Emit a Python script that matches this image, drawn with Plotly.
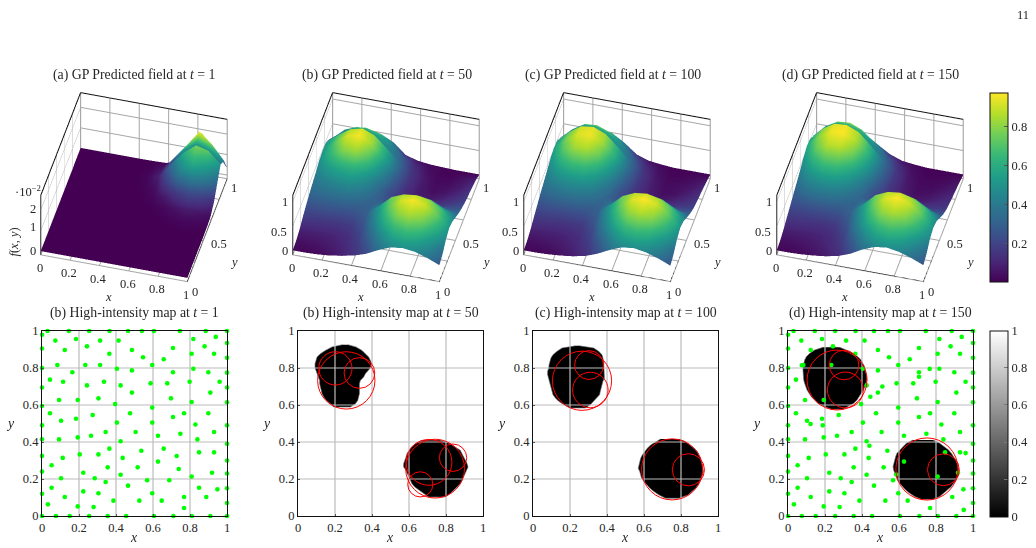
import plotly.graph_objects as go

W, H = 1036, 548
FONT = "Liberation Serif"
TXT = "#262626"
GRID = "#bcbcbc"

GRID_X = [0, .083, .167, .25, .333, .417, .5, .583, .667, .75, .833, .917, 1]
GRID_Y = [0, .083, .167, .25, .333, .417, .5, .583, .667, .75, .833, .917, 1]

# Predicted fields, one row per GRID_Y value (panel a in units of 1e-2)
FIELD_A = [
    [0, 0, 0, 0, 0, 0, 0, 0, 0, 0, 0, 0, 0],
    [0, 0, 0, 0, 0, 0, 0, 0, 0, 0, 0, 0, 0],
    [0, 0, 0, 0, 0, 0, 0, 0, 0, 0, 0, 0, 0],
    [0, 0, 0, 0, 0, 0, 0, 0, 0, 0, 0, 0, 0],
    [0, 0, 0, 0, 0, 0, 0, 0, 0, 0, 0, 0, 0],
    [0, 0, 0, 0, 0, 0, 0, 0, 0, 0, .01, .01, 0],
    [0, 0, 0, 0, 0, 0, 0, 0, .01, .03, .05, .04, .02],
    [0, 0, 0, 0, 0, 0, 0, .01, .04, .12, .2, .16, .08],
    [0, 0, 0, 0, 0, 0, .01, .05, .2, .45, .65, .55, .35],
    [0, 0, 0, 0, 0, 0, .02, .12, .6, 1.2, 1.55, 1.3, .85],
    [0, 0, 0, 0, 0, 0, .04, .25, .95, 1.6, 2.05, 1.9, 1.35],
    [0, 0, 0, 0, 0, 0, .02, .15, .85, 1.55, 2.3, 1.8, 1.1],
    [0, 0, 0, 0, 0, 0, .01, .03, .2, 1.2, 1.75, 1.1, .32],
]
FIELD_B = [
    [.02, .02, .03, .05, .09, .14, .22, .34, .44, .47, .44, .36, .26],
    [.04, .05, .06, .08, .11, .17, .28, .44, .58, .63, .58, .46, .32],
    [.09, .09, .09, .10, .13, .20, .37, .58, .75, .81, .75, .60, .44],
    [.17, .16, .15, .15, .17, .25, .45, .68, .86, .92, .86, .70, .50],
    [.24, .24, .24, .23, .24, .29, .50, .72, .82, .85, .80, .66, .46],
    [.30, .32, .33, .33, .30, .29, .35, .50, .62, .66, .62, .50, .37],
    [.35, .40, .43, .44, .40, .31, .24, .24, .28, .30, .30, .29, .29],
    [.40, .50, .56, .58, .50, .36, .22, .14, .13, .14, .16, .20, .23],
    [.46, .62, .76, .80, .67, .46, .27, .13, .07, .07, .10, .14, .18],
    [.48, .68, .87, .92, .80, .56, .32, .15, .07, .04, .06, .10, .15],
    [.47, .66, .82, .88, .78, .56, .32, .15, .07, .03, .04, .07, .12],
    [.35, .53, .68, .72, .65, .48, .27, .12, .05, .02, .02, .05, .08],
    [.20, .42, .52, .52, .46, .34, .13, .06, .03, .02, .01, .01, .01],
]
FIELD_C = [
    [.02, .02, .03, .05, .08, .13, .22, .34, .44, .47, .43, .35, .25],
    [.04, .05, .06, .08, .11, .17, .29, .46, .60, .64, .59, .46, .32],
    [.09, .09, .09, .10, .13, .21, .39, .60, .78, .84, .78, .62, .44],
    [.16, .16, .15, .15, .17, .26, .47, .70, .89, .95, .89, .72, .50],
    [.23, .24, .24, .24, .24, .30, .52, .74, .85, .88, .82, .68, .46],
    [.30, .33, .35, .35, .32, .30, .38, .52, .64, .68, .63, .50, .36],
    [.36, .43, .47, .47, .42, .33, .25, .25, .29, .31, .30, .27, .27],
    [.42, .55, .63, .64, .55, .40, .24, .15, .14, .14, .15, .18, .20],
    [.48, .68, .82, .84, .72, .50, .29, .15, .08, .06, .09, .12, .16],
    [.52, .75, .90, .93, .82, .60, .34, .16, .08, .04, .05, .09, .13],
    [.50, .72, .88, .91, .81, .59, .34, .16, .07, .03, .04, .06, .10],
    [.38, .60, .75, .77, .68, .49, .27, .12, .05, .02, .02, .04, .06],
    [.20, .45, .52, .52, .48, .33, .14, .06, .03, .01, .01, .01, .01],
]
FIELD_D = [
    [.02, .02, .03, .05, .08, .13, .22, .35, .45, .48, .44, .36, .26],
    [.04, .05, .06, .08, .11, .17, .30, .47, .61, .66, .60, .47, .33],
    [.09, .09, .09, .10, .13, .21, .40, .62, .80, .86, .79, .63, .45],
    [.16, .16, .15, .15, .17, .27, .48, .72, .91, .97, .90, .73, .50],
    [.22, .23, .24, .24, .25, .31, .53, .76, .87, .90, .83, .69, .46],
    [.29, .34, .36, .36, .33, .31, .39, .54, .66, .70, .64, .50, .35],
    [.35, .45, .50, .50, .44, .34, .26, .26, .30, .32, .30, .26, .25],
    [.42, .58, .68, .68, .58, .42, .25, .16, .14, .14, .15, .16, .18],
    [.50, .72, .87, .88, .76, .54, .31, .16, .08, .06, .08, .11, .14],
    [.56, .80, .95, .97, .86, .63, .36, .17, .08, .04, .05, .08, .11],
    [.54, .78, .93, .95, .85, .62, .36, .17, .07, .03, .03, .05, .08],
    [.42, .66, .80, .82, .72, .50, .28, .13, .05, .02, .02, .03, .05],
    [.20, .42, .52, .52, .46, .30, .15, .06, .03, .01, .01, .01, .01],
]

# Shading of the rear strip of each surface (last three GRID_Y rows)
REAR_A = [
    [0, 0, 0, 0, 0, 0, .04, .25, .7, 1.1, 1.3, 1.3, 1.0],
    [0, 0, 0, 0, 0, 0, .02, .15, .85, 1.9, 2.6, 2.1, 1.2],
    [0, 0, 0, 0, 0, 0, .01, .03, .2, 1.2, 1.75, 1.1, .32],
]
REAR_B = [
    [.28, .36, .44, .50, .50, .42, .32, .15, .07, .03, .04, .07, .12],
    [.30, .45, .60, .66, .60, .45, .27, .12, .05, .02, .02, .05, .08],
    [.20, .42, .62, .72, .60, .36, .13, .06, .03, .02, .01, .01, .01],
]
REAR_C = [
    [.28, .38, .47, .53, .52, .44, .34, .16, .07, .03, .04, .06, .10],
    [.32, .50, .66, .72, .64, .47, .27, .12, .05, .02, .02, .04, .06],
    [.20, .45, .62, .72, .60, .36, .14, .06, .03, .01, .01, .01, .01],
]
REAR_D = [
    [.30, .42, .52, .58, .55, .45, .36, .17, .07, .03, .03, .05, .08],
    [.42, .62, .76, .80, .70, .50, .28, .13, .05, .02, .02, .03, .05],
    [.20, .42, .62, .74, .62, .36, .15, .06, .03, .01, .01, .01, .01],
]

# Black regions of the intensity maps: (y, x_start, x_end) per scan row, one list per region
BLOBS_B = [[
    (.926, .24, .27), (.914, .184, .313), (.895, .148, .346), (.877, .121, .364), (.859, .103, .382),
    (.841, .099, .391), (.823, .092, .4), (.80, .092, .391), (.787, .097, .382), (.769, .103, .364),
    (.751, .112, .355), (.733, .117, .337), (.715, .117, .332), (.697, .121, .332), (.679, .124, .332),
    (.661, .13, .332), (.643, .139, .328), (.625, .153, .323), (.607, .175, .31), (.589, .193, .283),
], [
    (.409, .67, .769), (.391, .634, .823), (.373, .613, .85), (.355, .602, .877), (.337, .589, .887),
    (.319, .584, .895), (.301, .577, .905), (.283, .571, .914), (.265, .571, .919), (.247, .584, .914),
    (.229, .591, .905), (.211, .598, .895), (.193, .607, .887), (.175, .616, .877), (.157, .631, .859),
    (.139, .656, .841), (.121, .685, .823), (.103, .706, .796),
]]
BLOBS_C = [[
    (.92, .23, .25), (.908, .157, .328), (.89, .13, .355), (.872, .108, .373), (.854, .097, .378),
    (.836, .09, .382), (.818, .087, .386), (.8, .085, .386), (.782, .079, .386), (.764, .079, .386),
    (.746, .083, .386), (.728, .09, .378), (.71, .094, .373), (.692, .097, .368), (.674, .103, .364),
    (.656, .108, .36), (.638, .121, .346), (.62, .139, .328), (.602, .166, .31), (.584, .202, .283),
], [
    (.416, .69, .789), (.402, .663, .825), (.384, .636, .849), (.366, .618, .87), (.348, .604, .888),
    (.33, .591, .897), (.312, .582, .906), (.294, .577, .912), (.276, .573, .915), (.258, .569, .919),
    (.24, .577, .921), (.222, .582, .915), (.204, .587, .91), (.186, .6, .903), (.168, .614, .892),
    (.15, .632, .879), (.132, .654, .861), (.114, .681, .838), (.096, .717, .789),
]]
BLOBS_D = [[
    (.912, .189, .279), (.897, .144, .315), (.879, .117, .351), (.861, .099, .378), (.843, .09, .396),
    (.825, .085, .405), (.807, .081, .414), (.789, .081, .42), (.771, .081, .423), (.753, .081, .427),
    (.735, .085, .427), (.717, .09, .423), (.699, .095, .414), (.681, .103, .409), (.663, .114, .396),
    (.645, .126, .387), (.627, .144, .373), (.609, .162, .355), (.591, .198, .324), (.577, .234, .297),
], [
    (.411, .676, .784), (.393, .64, .82), (.375, .622, .847), (.357, .604, .868), (.339, .589, .883),
    (.321, .582, .895), (.303, .577, .906), (.285, .571, .914), (.267, .568, .919), (.249, .571, .923),
    (.231, .578, .924), (.213, .586, .919), (.195, .591, .91), (.177, .604, .895), (.159, .618, .883),
    (.141, .636, .865), (.123, .658, .841), (.105, .685, .82), (.09, .721, .784),
]]

# Sampling locations of the first panel; most of them recur in the last one
SAMPLES = [
    (.03, 1), (.145, 1), (.255, 1), (.365, 1), (.465, 1), (.54, 1), (.605, 1), (.745, 1), (.885, 1), (1, 1),
    (0, .98), (0, .905), (0, .8), (0, .695), (0, .595), (0, .49), (0, .415), (0, .325), (0, .24), (0, .12), (0, 0),
    (1, .935), (1, .855), (1, .775), (1, .695), (1, .615), (1, .49), (1, .39), (1, .30), (1, .23), (1, .15), (1, .07),
    (.075, 0), (.15, 0), (.255, 0), (.355, 0), (.455, 0), (.605, 0), (.71, 0), (.81, 0), (.91, 0), (1, 0),
    (.072, .948), (.184, .957), (.123, .897), (.243, .917), (.314, .948), (.364, .877), (.414, .948), (.486, .897),
    (.546, .858), (.658, .847), (.708, .908), (.809, .877), (.818, .957), (.879, .917), (.939, .968), (.93, .877),
    (.083, .816), (.164, .777), (.234, .816), (.314, .816), (.405, .796), (.486, .787), (.596, .816), (.708, .777),
    (.818, .796), (.899, .777), (.96, .726), (.043, .737), (.114, .726), (.243, .706), (.335, .726), (.425, .706),
    (.486, .667), (.587, .717), (.677, .717), (.798, .726), (.91, .667), (.092, .627), (.193, .627), (.305, .636),
    (.395, .605), (.697, .636), (.809, .616), (.596, .586), (.043, .555), (.103, .515), (.184, .526), (.274, .546),
    (.476, .555), (.708, .535), (.768, .555), (.829, .495), (.899, .555), (.405, .505), (.596, .505), (.092, .414),
    (.193, .425), (.265, .434), (.344, .454), (.506, .454), (.425, .404), (.627, .434), (.748, .445), (.84, .414),
    (.93, .454), (.364, .364), (.204, .333), (.305, .333), (.112, .314), (.436, .314), (.537, .353), (.658, .364),
    (.728, .324), (.627, .294), (.849, .344), (.93, .344), (.052, .274), (.355, .263), (.517, .263), (.739, .254),
    (.919, .234), (.223, .234), (.425, .223), (.809, .213), (.103, .204), (.285, .204), (.568, .193), (.688, .193),
    (.344, .184), (.052, .153), (.465, .164), (.223, .133), (.305, .123), (.596, .123), (.948, .144), (.849, .153),
    (.123, .103), (.386, .083), (.526, .083), (.647, .083), (.768, .103), (.888, .103), (.032, .063), (.193, .052),
    (.279, .049), (.768, .043),
]
DROPPED_LATER = [(.314, .816), (.164, .777), (.114, .726), (.243, .706), (.335, .726), (.305, .636),
                 (.658, .364), (.728, .324), (.739, .254), (.688, .193), (.849, .153), (.768, .103)]
LATER_SAMPLES = [(.075, .815), (.122, .497), (.188, .49), (.445, .645), (.51, .70), (.708, .753), (.766, .795),
                 (.44, .38), (.96, .34), (.585, .224), (.95, .033)]

# Fitted circles: (centre x, centre y, radius)
CIRCLES_B = [(.261, .733, .155), (.202, .798, .09), (.332, .773, .083),
             (.741, .256, .159), (.708, .29, .124), (.838, .315, .074), (.661, .171, .068)]
CIRCLES_C = [(.265, .731, .16), (.303, .816, .078), (.31, .681, .096), (.752, .252, .165), (.84, .25, .087)]
CIRCLES_D = [(.265, .735, .162), (.303, .816, .08), (.31, .681, .097), (.751, .254, .168), (.84, .25, .086)]

TICKS_2D = [0, .2, .4, .6, .8, 1]
TICK_TEXT = ["0", "0.2", "0.4", "0.6", "0.8", "1"]
BAR_TICKS_TOP = [.2, .4, .6, .8]
BAR_TICKS_BOTTOM = [0, .2, .4, .6, .8, 1]

TITLES_TOP = ["(a) GP Predicted field at <i>t</i> = 1", "(b) GP Predicted field at <i>t</i> = 50",
              "(c) GP Predicted field at <i>t</i> = 100", "(d) GP Predicted field at <i>t</i> = 150"]
TITLES_BOTTOM = ["(b) High-intensity map at <i>t</i> = 1", "(b) High-intensity map at <i>t</i> = 50",
                 "(c) High-intensity map at <i>t</i> = 100", "(d) High-intensity map at <i>t</i> = 150"]

fig = go.Figure()


def fx(p):
    return p / W


def fy(p):
    return 1 - p / H


def note(text, x, y, size=13.8, angle=0, xanchor="center"):
    return dict(text=text, x=fx(x), y=fy(y), xref="paper", yref="paper", showarrow=False, textangle=angle,
                xanchor=xanchor, yanchor="middle", font=dict(family=FONT, size=size, color=TXT))


# ---- surfaces ----
ORIGINS = [40, 292, 523, 776]
TITLE_X = [134, 387, 613, 870]
FIELDS = [FIELD_A, FIELD_B, FIELD_C, FIELD_D]
REARS = [REAR_A, REAR_B, REAR_C, REAR_D]
ZBASE = [-.18, -.07, -.07, -.07]
ZTOPS = [2.72, 1.13, 1.13, 1.13]
ZTICKS = [[0, 1, 2], [0, .5, 1], [0, .5, 1], [0, .5, 1]]
ZTEXT = [["0", "1", "2"], ["0", "0.5", "1"], ["0", "0.5", "1"], ["0", "0.5", "1"]]
ZLABEL_DROP = [[0, -4, -1], [0, 5, 0], [0, 5, 0], [0, 5, 0]]
CLIM = [(.0, 2.6), (.005, .93), (.005, .95), (.005, .973)]
EYE = dict(x=.187, y=-.703, z=.686)
ASPECT = dict(x=1.38, y=1.41, z=.745)
SCENE_LEFT, SCENE_RIGHT, SCENE_TOP, SCENE_BOTTOM = -18, 206, 77, 297


def scene_ann(text, x, y, z, dx, dy, angle=0, size=12.5):
    return dict(text=text, x=x, y=y, z=z, showarrow=False, xshift=dx, yshift=-dy, textangle=angle,
                xanchor="center", yanchor="middle", font=dict(family=FONT, size=size, color=TXT))


for i in range(4):
    sid = "scene" if i == 0 else f"scene{i + 1}"
    ztop, zbase = ZTOPS[i], ZBASE[i]
    cmin, cmax = CLIM[i]
    field = FIELDS[i]
    fig.add_trace(go.Surface(
        x=GRID_X, y=GRID_Y, z=field, scene=sid, colorscale="Viridis", cmin=cmin, cmax=cmax,
        showscale=i == 3, hoverinfo="skip",
        lighting=dict(ambient=1, diffuse=0, specular=0, roughness=1, fresnel=0),
        colorbar=dict(x=fx(990), xanchor="left", y=fy(282), yanchor="bottom", len=189 / H, lenmode="fraction",
                      thickness=17.5, thicknessmode="pixels", xpad=0, ypad=0, tickmode="array",
                      tickvals=BAR_TICKS_TOP, ticktext=["0.2", "0.4", "0.6", "0.8"], ticks="inside", ticklen=4,
                      tickcolor="#555555", outlinecolor="#111111", outlinewidth=1,
                      tickfont=dict(family=FONT, size=12.5, color=TXT)),
    ))
    lift = ztop * .008
    rear_z = [[v + lift for v in row] for row in field[-3:]]
    fig.add_trace(go.Surface(
        x=GRID_X, y=GRID_Y[-3:], z=rear_z, surfacecolor=REARS[i], scene=sid, colorscale="Viridis",
        cmin=cmin, cmax=cmax, showscale=False, hoverinfo="skip",
        lighting=dict(ambient=1, diffuse=0, specular=0, roughness=1, fresnel=0),
    ))
    # box outline in black, rear verticals in grey
    fig.add_trace(go.Scatter3d(
        x=[0, 1, 1, None, 0, 0, 0, 1],
        y=[0, 0, 1, None, 0, 0, 1, 1],
        z=[zbase, zbase, zbase, None, zbase, ztop, ztop, ztop],
        mode="lines", line=dict(color="#111111", width=2), scene=sid, showlegend=False, hoverinfo="skip"))
    fig.add_trace(go.Scatter3d(
        x=[0, 0, None, 1, 1], y=[1, 1, None, 1, 1], z=[zbase, ztop, None, zbase, ztop],
        mode="lines", line=dict(color="#8c8c8c", width=2), scene=sid, showlegend=False, hoverinfo="skip"))

    anns = []
    for t, s in zip(TICKS_2D, TICK_TEXT):
        anns.append(scene_ann(s, t, 0, zbase, -1, 13))
    for t, s in zip([0, .5, 1], ["0", "0.5", "1"]):
        anns.append(scene_ann(s, 1, t, zbase, {0: 8, .5: 12, 1: 7}[t], {0: 10, .5: 14, 1: 9}[t]))
    for t, s, d in zip(ZTICKS[i], ZTEXT[i], ZLABEL_DROP[i]):
        anns.append(scene_ann(s, 0, 0, t, -8 if s != "0.5" else -14, d))
    anns.append(scene_ann("<i>x</i>", .5, 0, zbase, -6, 29))
    anns.append(scene_ann("<i>y</i>", 1, .5, zbase, 27, 32))
    if i == 0:
        anns.append(scene_ann("<i>f</i>(<i>x</i>, <i>y</i>)", 0, 0, ztop * .4, -27, 13, angle=-90))
        anns.append(scene_ann("·10<sup>−2</sup>", 0, 0, ztop, -13, -4))

    ax = dict(showbackground=False, showline=False, zeroline=False, showticklabels=False, ticks="", title="",
              showspikes=False, gridcolor="#a6a6a6", gridwidth=2, tickmode="array")
    fig.update_layout({sid: dict(
        domain=dict(x=[fx(ORIGINS[i] + SCENE_LEFT), fx(ORIGINS[i] + SCENE_RIGHT)],
                    y=[fy(SCENE_BOTTOM), fy(SCENE_TOP)]),
        xaxis=dict(ax, range=[0, 1], tickvals=TICKS_2D),
        yaxis=dict(ax, range=[0, 1], tickvals=TICKS_2D),
        # a little headroom keeps the top edge of the box inside the clip volume
        zaxis=dict(ax, range=[zbase, ztop * 1.004], tickvals=ZTICKS[i]),
        aspectmode="manual", aspectratio=ASPECT,
        camera=dict(eye=EYE, up=dict(x=0, y=0, z=1), projection=dict(type="orthographic")),
        annotations=anns,
    )})

# ---- intensity maps ----
LEFTS = [42, 298, 533, 788]
BOX = 185
TOP_2D, BOTTOM_2D = 331, 516
BLOBS = [[], BLOBS_B, BLOBS_C, BLOBS_D]
CIRCLES = [[], CIRCLES_B, CIRCLES_C, CIRCLES_D]
POINTS = [SAMPLES, [], [], [p for p in SAMPLES if p not in DROPPED_LATER] + LATER_SAMPLES]
ALL_ONE = [[1, 1], [1, 1]]
shapes = []
annotations = [note("11", 1023, 15, size=12.5)]

for i in range(4):
    xa = "x" if i == 0 else f"x{i + 1}"
    ya = "y" if i == 0 else f"y{i + 1}"
    fig.add_trace(go.Heatmap(
        x=[0, 1], y=[0, 1], z=ALL_ONE, xaxis=xa, yaxis=ya, zmin=0, zmax=1, hoverinfo="skip",
        colorscale=[[0, "#000000"], [1, "#ffffff"]], showscale=i == 3,
        colorbar=dict(x=fx(990), xanchor="left", y=fy(516.5), yanchor="bottom", len=185.5 / H, lenmode="fraction",
                      thickness=17.5, thicknessmode="pixels", xpad=0, ypad=0, tickmode="array",
                      tickvals=BAR_TICKS_BOTTOM, ticktext=TICK_TEXT, ticks="inside", ticklen=4,
                      tickcolor="#777777", outlinecolor="#111111", outlinewidth=1,
                      tickfont=dict(family=FONT, size=12.5, color=TXT)),
    ))
    for blob in BLOBS[i]:
        xs = [r[1] for r in blob] + [r[2] for r in reversed(blob)]
        ys = [r[0] for r in blob] + [r[0] for r in reversed(blob)]
        fig.add_trace(go.Scatter(x=xs, y=ys, mode="lines", fill="toself", fillcolor="#000000",
                                 line=dict(color="#6a6a6a", width=.6), xaxis=xa, yaxis=ya,
                                 showlegend=False, hoverinfo="skip"))
    gx, gy = [], []
    for t in TICKS_2D[1:-1]:
        gx += [t, t, None, 0, 1, None]
        gy += [0, 1, None, t, t, None]
    fig.add_trace(go.Scatter(x=gx, y=gy, mode="lines", line=dict(color=GRID, width=1.2), xaxis=xa, yaxis=ya,
                             showlegend=False, hoverinfo="skip"))
    if POINTS[i]:
        fig.add_trace(go.Scatter(x=[p[0] for p in POINTS[i]], y=[p[1] for p in POINTS[i]], mode="markers",
                                 marker=dict(color="#00ff00", size=4.6), xaxis=xa, yaxis=ya, cliponaxis=False,
                                 showlegend=False, hoverinfo="skip"))
    for cx, cy, r in CIRCLES[i]:
        shapes.append(dict(type="circle", xref=xa, yref=ya, x0=cx - r, x1=cx + r, y0=cy - r, y1=cy + r,
                           line=dict(color="#ff0000", width=1), layer="above"))
    base = dict(range=[0, 1], tickmode="array", tickvals=TICKS_2D, ticktext=TICK_TEXT, showgrid=False,
                zeroline=False, showline=True, linecolor="#111111", linewidth=1.2, mirror=True, ticks="inside",
                ticklen=2, tickcolor="#555555", tickfont=dict(family=FONT, size=12.5, color=TXT))
    xname = "xaxis" if i == 0 else f"xaxis{i + 1}"
    yname = "yaxis" if i == 0 else f"yaxis{i + 1}"
    fig.update_layout({
        xname: dict(base, domain=[fx(LEFTS[i]), fx(LEFTS[i] + BOX)], anchor=ya),
        yname: dict(base, domain=[fy(BOTTOM_2D), fy(TOP_2D)], anchor=xa),
    })
    annotations.append(note("<i>x</i>", LEFTS[i] + BOX / 2 - 1, 537))
    annotations.append(note("<i>y</i>", LEFTS[i] - 32, 423))
    annotations.append(note(TITLES_BOTTOM[i], LEFTS[i] + BOX / 2, 313))
    annotations.append(note(TITLES_TOP[i], TITLE_X[i], 75))

fig.update_layout(width=W, height=H, margin=dict(l=0, r=0, t=0, b=0, autoexpand=False), autosize=False,
                  paper_bgcolor="white", plot_bgcolor="white", showlegend=False, shapes=shapes,
                  annotations=annotations, font=dict(family=FONT, color=TXT))
fig.write_html("out.html")
